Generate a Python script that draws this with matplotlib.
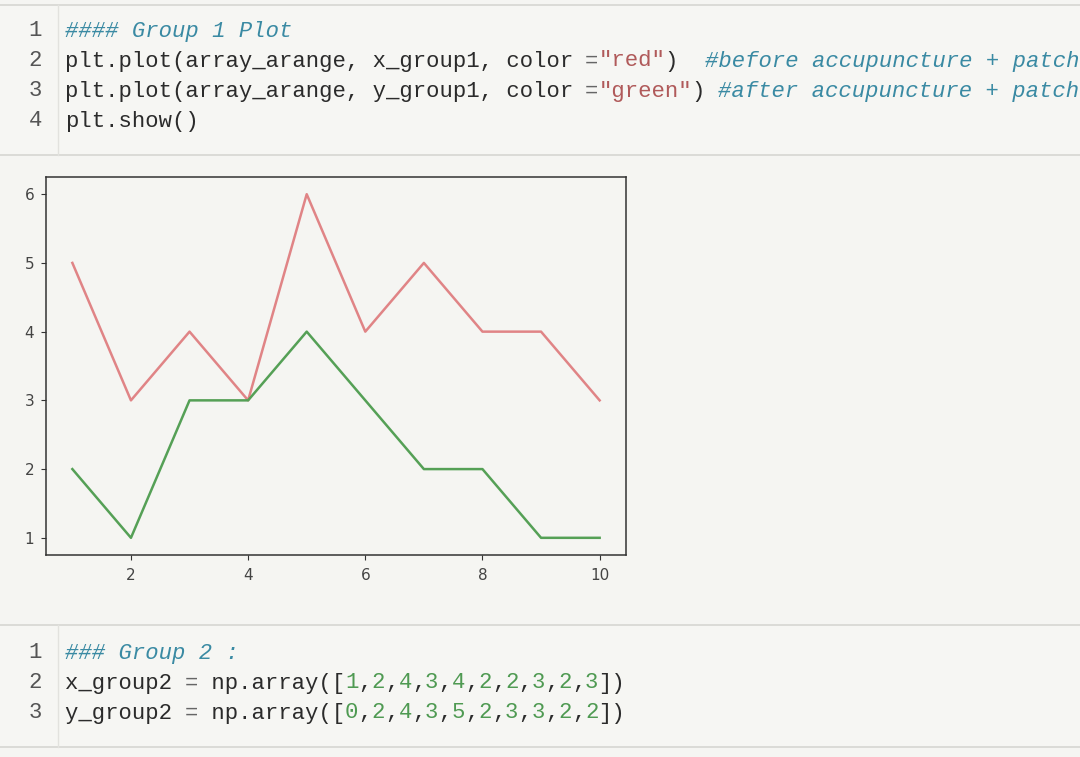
import matplotlib
matplotlib.use("Agg")
import matplotlib.pyplot as plt
from matplotlib.patches import Rectangle
from matplotlib.lines import Line2D

# ---- data ----
array_arange = [1, 2, 3, 4, 5, 6, 7, 8, 9, 10]
x_group1 = [5, 3, 4, 3, 6, 4, 5, 4, 4, 3]   # before (red)
y_group1 = [2, 1, 3, 3, 4, 3, 2, 2, 1, 1]   # after (green)
x_ticks = [2, 4, 6, 8, 10]
y_ticks = [1, 2, 3, 4, 5, 6]

# code cell text, as (text, kind) segments
C_CODE, C_COMMENT, C_STRING, C_NUM, C_OP = "code", "comment", "string", "num", "op"
cell1_lines = [
    [("#### Group 1 Plot", C_COMMENT)],
    [("plt.plot(array_arange, x_group1, color ", C_CODE), ("=", C_OP), ('"red"', C_STRING),
     (")  ", C_CODE), ("#before accupuncture + patch", C_COMMENT)],
    [("plt.plot(array_arange, y_group1, color ", C_CODE), ("=", C_OP), ('"green"', C_STRING),
     (") ", C_CODE), ("#after accupuncture + patch", C_COMMENT)],
    [("plt.show()", C_CODE)],
]
cell2_lines = [
    [("### Group 2 :", C_COMMENT)],
    [("x_group2 ", C_CODE), ("=", C_OP), (" np.array([", C_CODE), ("1", C_NUM), (",", C_CODE),
     ("2", C_NUM), (",", C_CODE), ("4", C_NUM), (",", C_CODE), ("3", C_NUM), (",", C_CODE),
     ("4", C_NUM), (",", C_CODE), ("2", C_NUM), (",", C_CODE), ("2", C_NUM), (",", C_CODE),
     ("3", C_NUM), (",", C_CODE), ("2", C_NUM), (",", C_CODE), ("3", C_NUM), ("])", C_CODE)],
    [("y_group2 ", C_CODE), ("=", C_OP), (" np.array([", C_CODE), ("0", C_NUM), (",", C_CODE),
     ("2", C_NUM), (",", C_CODE), ("4", C_NUM), (",", C_CODE), ("3", C_NUM), (",", C_CODE),
     ("5", C_NUM), (",", C_CODE), ("2", C_NUM), (",", C_CODE), ("3", C_NUM), (",", C_CODE),
     ("3", C_NUM), (",", C_CODE), ("2", C_NUM), (",", C_CODE), ("2", C_NUM), ("])", C_CODE)],
]

# ---- style ----
W, H, DPI = 1080, 757, 100
BG = "#f5f5f2"
colors = {C_CODE: "#2b2b2b", C_COMMENT: "#3a8aa3", C_STRING: "#b05a5a",
          C_NUM: "#4f9a52", C_OP: "#666666"}

fig = plt.figure(figsize=(W / DPI, H / DPI), dpi=DPI, facecolor=BG)

def fx(px):
    return px / W

def fy(py):
    return 1 - py / H

# cell boxes
def cell_box(top, bottom):
    fig.add_artist(Rectangle((fx(-5), fy(bottom)), fx(W + 10), (bottom - top) / H,
                             transform=fig.transFigure, facecolor="#f6f6f3",
                             edgecolor="#d6d6d2", linewidth=1.2, zorder=0))
    fig.add_artist(Line2D([fx(58), fx(58)], [fy(top), fy(bottom)], transform=fig.transFigure,
                          color="#e2e2de", linewidth=1.0, zorder=1))

cell_box(5, 155)
cell_box(625, 747)

FS = 16
CHAR_W = 0.60009765625 * FS * DPI / 72.0   # Liberation Mono advance
X0 = 65

def draw_cell(lines, y_first, step=30):
    for i, segs in enumerate(lines):
        y = y_first + i * step
        fig.text(fx(42), fy(y), str(i + 1), ha="right", va="center",
                 family="Liberation Mono", fontsize=FS, color="#555555")
        col = 0
        for txt, kind in segs:
            fig.text(fx(X0 + col * CHAR_W), fy(y), txt, ha="left", va="center",
                     family="Liberation Mono", fontsize=FS, color=colors[kind],
                     style="italic" if kind == C_COMMENT else "normal")
            col += len(txt)

draw_cell(cell1_lines, 31)
draw_cell(cell2_lines, 653)

# ---- plot ----
ax = fig.add_axes([fx(46), fy(555), fx(626) - fx(46), (555 - 177) / H])
ax.set_facecolor(BG)
ax.plot(array_arange, x_group1, color="#e08486", linewidth=1.8)
ax.plot(array_arange, y_group1, color="#55a056", linewidth=1.8)
ax.set_xticks(x_ticks)
ax.set_yticks(y_ticks)
ax.tick_params(labelsize=11, labelcolor="#444444", color="#333333", length=3.5)
ax.tick_params(axis="x", pad=6)
ax.tick_params(axis="y", pad=5)
for s in ax.spines.values():
    s.set_color("#333333")
    s.set_linewidth(1.1)

fig.savefig("out.png", dpi=DPI, facecolor=BG)
